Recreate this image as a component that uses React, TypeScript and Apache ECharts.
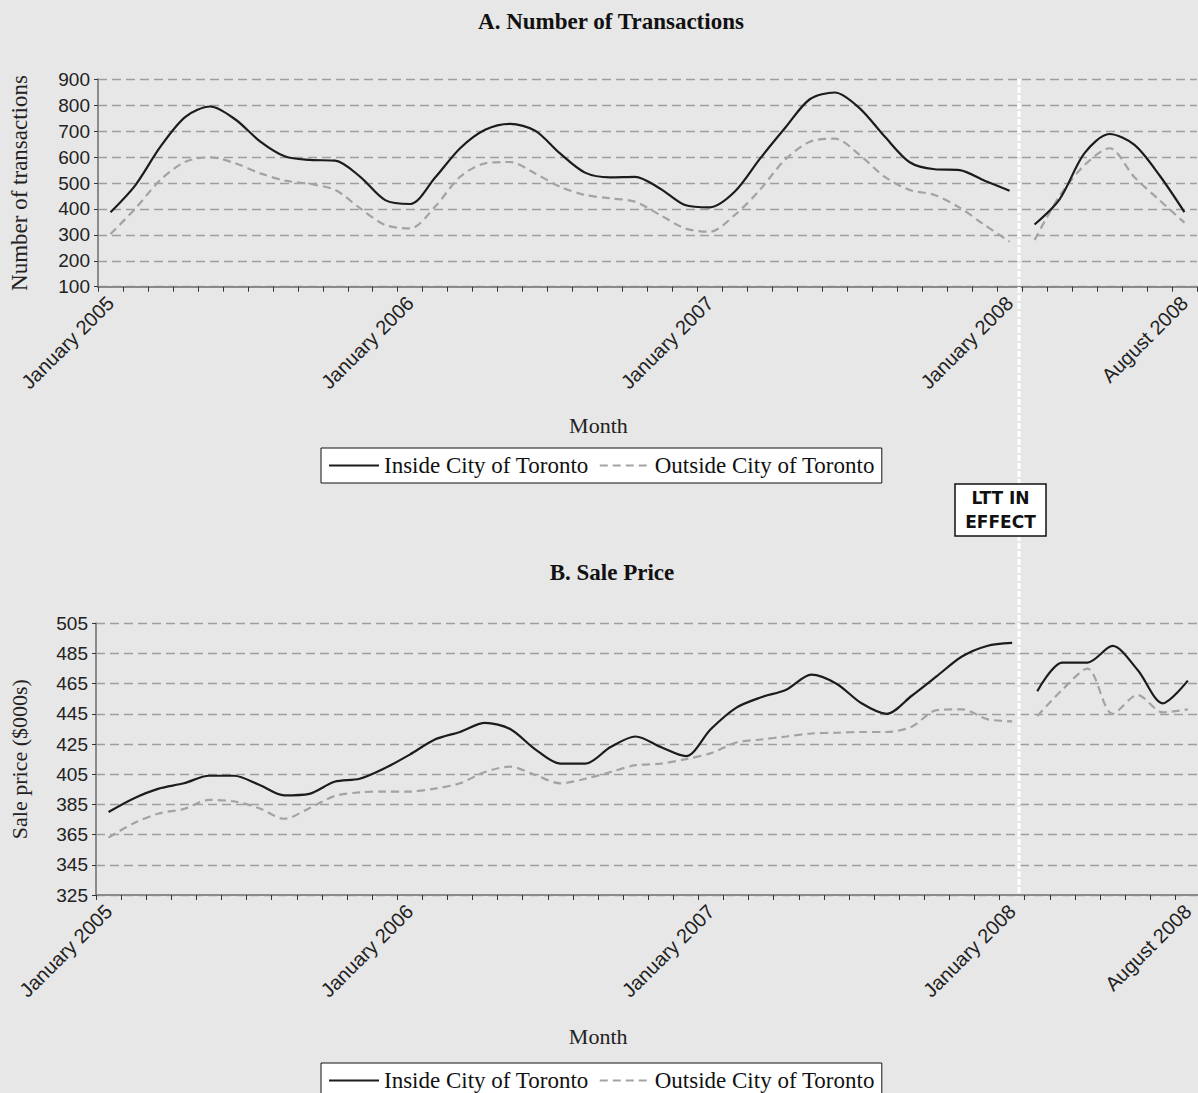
import React, { useEffect, useRef } from "react";
import * as echarts from "echarts";

// ---------- data ----------
const monthNames = [
  "January", "February", "March", "April", "May", "June",
  "July", "August", "September", "October", "November", "December",
];
const years = [2005, 2006, 2007, 2008];
const lastMonthOf2008 = 7; // August
const months: string[] = [];
years.forEach((y) => {
  monthNames.forEach((m, mi) => {
    if (y === 2008 && mi > lastMonthOf2008) return;
    months.push(`${m} ${y}`);
  });
});

const shownLabels = ["January 2005", "January 2006", "January 2007", "January 2008", "August 2008"];
const lastPreLTT = "January 2008"; // LTT took effect from February 2008

const insideTransactions = [
  387, 492, 640, 755, 795, 745, 660, 602, 589, 586, 524, 434,
  419, 521, 634, 705, 728, 702, 614, 540, 522, 524, 479, 415,
  406, 467, 593, 711, 823, 849, 788, 679, 580, 553, 550, 509,
  470, 340, 437, 615, 689, 647, 530, 388,
];
const outsideTransactions = [
  303, 402, 512, 582, 599, 576, 537, 509, 496, 473, 402, 338,
  325, 409, 524, 576, 581, 537, 486, 454, 441, 428, 377, 325,
  312, 377, 473, 589, 659, 671, 608, 524, 473, 454, 405, 338,
  274, 280, 450, 569, 634, 522, 434, 347,
];
const insidePrice = [
  380, 389, 395.5, 399, 404, 404, 398, 391, 392, 400, 402, 409,
  418, 428, 433, 439, 435, 421.5, 412, 412, 423, 430, 423, 417,
  435, 449, 456, 461, 471, 465, 452, 445, 457, 470, 483, 490,
  492, 460, 479, 479, 490, 474, 452, 467,
];
const outsidePrice = [
  363, 372.5, 379, 382, 388, 387, 382.5, 375.5, 382.5, 390.5, 393, 393.5,
  393.5, 395.5, 399, 406.5, 410, 404.5, 399, 402, 406.5, 411, 412, 415,
  419, 426, 428, 430, 432, 432.5, 433, 433, 436.5, 447.5, 448, 441.5,
  440, 443.5, 461, 475, 445, 457.5, 446, 448,
];

const INSIDE = "Inside City of Toronto";
const OUTSIDE = "Outside City of Toronto";

// ---------- styles ----------
const SERIF = '"Liberation Serif", "Times New Roman", serif';
const SANS = '"Liberation Sans", Arial, sans-serif';
const BG = "#e7e7e7";

const cut = months.indexOf(lastPreLTT);
const pre = (arr: number[]) => arr.map((v, i) => (i <= cut ? v : null));
const post = (arr: number[]) => arr.map((v, i) => (i > cut ? v : null));

const insideStyle = { color: "#1c1c1c", width: 2.2, type: "solid" as const };
const outsideStyle = { color: "#a3a3a3", width: 2.2, type: [8, 5] as any };

function lineSeries(name: string, data: (number | null)[], axis: number, style: any) {
  return {
    type: "line",
    name,
    xAxisIndex: axis,
    yAxisIndex: axis,
    data,
    symbol: "none",
    smooth: 0.3,
    connectNulls: false,
    lineStyle: style,
    itemStyle: { color: style.color },
    emphasis: { disabled: true },
  };
}

function xAxis(gridIndex: number, nameGap: number, shift: number) {
  return {
    type: "category",
    gridIndex,
    data: months,
    boundaryGap: true,
    axisLine: { show: true, lineStyle: { color: "#8a8a8a", width: 2 } },
    axisTick: { show: true, interval: 0, length: 5, lineStyle: { color: "#333", width: 1 } },
    axisLabel: {
      interval: 0,
      rotate: 45,
      margin: 13,
      fontFamily: SANS,
      fontSize: 20,
      color: "#222",
      formatter: (v: string) => (shownLabels.includes(v) ? v : ""),
    },
    splitLine: { show: false },
    name: "Month",
    nameLocation: "middle",
    nameGap,
    nameTextStyle: { fontFamily: SERIF, fontSize: 22, color: "#222", padding: [0, shift, 0, 0] },
  };
}

function yAxis(gridIndex: number, min: number, max: number, interval: number, name: string, nameGap: number, nameSize: number) {
  return {
    type: "value",
    gridIndex,
    min,
    max,
    interval,
    axisLine: { show: true, lineStyle: { color: "#8a8a8a", width: 2 } },
    axisTick: { show: true, length: 4, lineStyle: { color: "#333", width: 1 } },
    axisLabel: { margin: 8, fontFamily: SANS, fontSize: 19, color: "#222" },
    splitLine: { show: true, lineStyle: { color: "#9e9e9e", type: [9, 5], width: 1.3 } },
    name,
    nameLocation: "middle",
    nameRotate: 90,
    nameGap,
    nameTextStyle: { fontFamily: SERIF, fontSize: nameSize, color: "#222" },
  };
}

const legendCommon = {
  orient: "horizontal",
  padding: [6, 7, 6, 7],
  itemGap: 10,
  itemWidth: 50,
  itemHeight: 2,
  itemStyle: { opacity: 0 },
  borderColor: "#111",
  borderWidth: 1,
  borderRadius: 0,
  backgroundColor: "#ffffff",
  selectedMode: false,
  textStyle: { fontFamily: SERIF, fontSize: 23, color: "#111" },
  data: [INSIDE, OUTSIDE],
};

export default function App() {
  const ref = useRef<HTMLDivElement>(null);

  useEffect(() => {
    if (!ref.current) return;
    const chart = echarts.init(ref.current, undefined, { renderer: "svg" });
    const option: any = {
      animation: false,
      backgroundColor: BG,
      title: [
        {
          text: "A. Number of Transactions",
          left: 606,
          top: 5,
          textAlign: "center",
          textStyle: { fontFamily: SERIF, fontWeight: "bold", fontSize: 23, color: "#111" },
        },
        {
          text: "B. Sale Price",
          left: 607,
          top: 556,
          textAlign: "center",
          textStyle: { fontFamily: SERIF, fontWeight: "bold", fontSize: 23, color: "#111" },
        },
      ],
      grid: [
        { left: 98, top: 79.3, width: 1098.9, height: 207.4, containLabel: false, outerBoundsMode: "none" },
        { left: 96, top: 623.3, width: 1104.4, height: 271.7, containLabel: false, outerBoundsMode: "none" },
      ],
      xAxis: [xAxis(0, 128, 98), xAxis(1, 130, 100)],
      yAxis: [
        yAxis(0, 100, 900, 100, "Number of transactions", 67, 23),
        yAxis(1, 325, 505, 20, "Sale price ($000s)", 66, 22),
      ],
      legend: [
        { ...legendCommon, left: 321, top: 448 },
        { ...legendCommon, left: 321, top: 1063 },
      ],
      series: [
        lineSeries(OUTSIDE, pre(outsideTransactions), 0, outsideStyle),
        lineSeries(OUTSIDE, post(outsideTransactions), 0, outsideStyle),
        lineSeries(INSIDE, pre(insideTransactions), 0, insideStyle),
        lineSeries(INSIDE, post(insideTransactions), 0, insideStyle),
        lineSeries(OUTSIDE, pre(outsidePrice), 1, outsideStyle),
        lineSeries(OUTSIDE, post(outsidePrice), 1, outsideStyle),
        lineSeries(INSIDE, pre(insidePrice), 1, insideStyle),
        lineSeries(INSIDE, post(insidePrice), 1, insideStyle),
      ],
      graphic: [
        {
          type: "line",
          shape: { x1: 1019, y1: 79, x2: 1019, y2: 893 },
          style: { stroke: "#ffffff", lineWidth: 3, lineDash: [6, 2] },
          z: 100,
        },
        {
          type: "rect",
          shape: { x: 955, y: 484, width: 91, height: 52 },
          style: { fill: "#ffffff", stroke: "#111", lineWidth: 1.5 },
          z: 110,
        },
        {
          type: "text",
          x: 1000.5,
          y: 498,
          style: {
            text: "LTT IN",
            fontFamily: "DejaVu Sans",
            fontWeight: "bold",
            fontSize: 17,
            fill: "#111",
            align: "center",
            verticalAlign: "middle",
            textAlign: "center",
            textVerticalAlign: "middle",
          },
          z: 111,
        },
        {
          type: "text",
          x: 1000.5,
          y: 522,
          style: {
            text: "EFFECT",
            fontFamily: "DejaVu Sans",
            fontWeight: "bold",
            fontSize: 17,
            fill: "#111",
            align: "center",
            verticalAlign: "middle",
            textAlign: "center",
            textVerticalAlign: "middle",
          },
          z: 111,
        },
      ],
    };
    chart.setOption(option);
    return () => chart.dispose();
  }, []);

  return (
    <div
      ref={ref}
      style={{ position: "absolute", left: 0, top: 0, width: 1198, height: 1093, background: BG }}
    />
  );
}
